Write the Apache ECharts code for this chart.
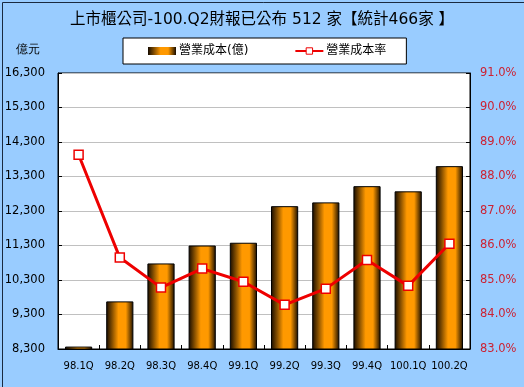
<!DOCTYPE html>
<html>
<head>
<meta charset="utf-8">
<script src="https://cdn.jsdelivr.net/npm/echarts@6/dist/echarts.min.js"></script>
<style>
html,body{margin:0;padding:0;background:#99CCFF;}
#c{width:524px;height:387px;box-sizing:border-box;}
</style>
</head>
<body>
<div id="c"></div>
<script>
const categories = ['98.1Q','98.2Q','98.3Q','98.4Q','99.1Q','99.2Q','99.3Q','99.4Q','100.1Q','100.2Q'];
const costValues = [8370, 9680, 10780, 11300, 11380, 12440, 12550, 13020, 12870, 13600];
const costRate = [88.63, 85.65, 84.78, 85.33, 84.95, 84.28, 84.75, 85.58, 84.83, 86.05];
const titleText = '上市櫃公司-100.Q2財報已公布 512 家【統計466家 】';
const unitText = '億元';
const barName = '營業成本(億)';
const lineName = '營業成本率';

const FONT = '"DejaVu Sans", "Noto Sans CJK TC", sans-serif';
const chart = echarts.init(document.getElementById('c'), null, {renderer: 'canvas'});
chart.setOption({
  backgroundColor: '#99CCFF',
  animation: false,
  title: {
    text: titleText, left: 'center', top: 7,
    textStyle: {fontSize: 15.5, fontWeight: 'normal', color: '#000', fontFamily: FONT}
  },
  graphic: [
    {type: 'rect', left: 0, top: 0, shape: {width: 523, height: 386}, style: {fill: 'none', stroke: '#1a2a40', lineWidth: 1}, silent: true},
    {type: 'text', left: 16, top: 44, style: {text: unitText, fontSize: 12, fill: '#000', font: '12px ' + FONT}}
  ],
  legend: {
    left: 123, top: 38, width: 281,
    padding: [7, 20, 7, 25],
    itemGap: 46,
    backgroundColor: '#fff', borderColor: '#000', borderWidth: 1, borderRadius: 0,
    itemWidth: 28, itemHeight: 8,
    textStyle: {fontSize: 12, color: '#000', fontFamily: FONT, padding: [0, 0, 0, -2]},
    data: [
      {name: barName, icon: 'rect', itemStyle: {borderWidth: 0}},
      {name: lineName, itemStyle: {borderWidth: 1}}
    ]
  },
  grid: {left: 58, right: 54, top: 73, bottom: 38, show: true, backgroundColor: '#fff', borderColor: '#000', borderWidth: 1},
  xAxis: {
    type: 'category', data: categories,
    axisLine: {lineStyle: {color: '#000'}},
    axisTick: {show: true, inside: true, length: 4, lineStyle: {color: '#000'}},
    axisLabel: {interval: 0, fontSize: 10, color: '#000', fontFamily: FONT, margin: 12}
  },
  yAxis: [
    {
      type: 'value', min: 8300, max: 16300, interval: 1000,
      axisLine: {show: true, lineStyle: {color: '#000'}},
      axisTick: {show: true, inside: true, length: 4, lineStyle: {color: '#000'}},
      splitLine: {lineStyle: {color: '#c0c0c0'}},
      axisLabel: {fontSize: 11.5, color: '#000', fontFamily: FONT, margin: 13,
        formatter: v => v.toLocaleString('en-US')}
    },
    {
      type: 'value', min: 83, max: 91, interval: 1,
      axisLine: {show: true, lineStyle: {color: '#000'}},
      axisTick: {show: true, inside: true, length: 4, lineStyle: {color: '#000'}},
      splitLine: {show: false},
      axisLabel: {fontSize: 11.5, color: '#CC2233', fontFamily: FONT, margin: 10,
        formatter: v => v.toFixed(1) + '%'}
    }
  ],
  series: [
    {
      name: barName, type: 'bar', data: costValues, barWidth: '66%',
      itemStyle: {
        borderColor: '#000', borderWidth: 1,
        color: new echarts.graphic.LinearGradient(0, 0, 1, 0, [
          {offset: 0, color: '#140a00'},
          {offset: 0.2, color: '#7a4800'},
          {offset: 0.45, color: '#FF9900'},
          {offset: 0.72, color: '#FF9900'},
          {offset: 0.88, color: '#7a4800'},
          {offset: 1, color: '#140a00'}
        ])
      }
    },
    {
      name: lineName, type: 'line', yAxisIndex: 1, data: costRate,
      symbol: 'rect', symbolSize: 9,
      lineStyle: {color: '#EE0000', width: 3},
      itemStyle: {color: '#fff', borderColor: '#EE0000', borderWidth: 1.5}
    }
  ]
});
</script>
</body>
</html>
